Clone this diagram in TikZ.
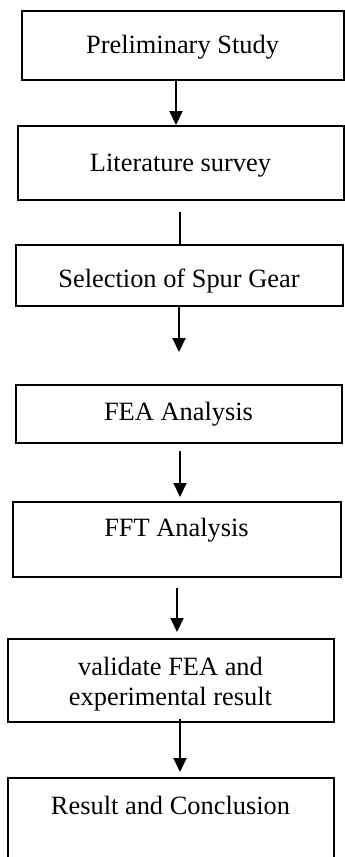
\documentclass[tikz,border=0pt]{standalone}
\usepackage{fontspec}
\setmainfont{Liberation Serif}
\usetikzlibrary{positioning,arrows.meta}

\begin{document}
\begin{tikzpicture}[
    x=0.5pt, y=-0.5pt,
    stepbox/.style={rectangle, draw=black, line width=1pt, inner sep=0pt,
                outer sep=0pt, align=center, text height=9pt,
                font=\fontsize{13.2}{15}\selectfont},
    arrow/.style={-{Triangle[length=7pt,width=6.5pt]}, line width=1pt},
    link/.style={line width=1pt}
]
    \useasboundingbox (0,0) rectangle (344,857);

    \node[stepbox, minimum width=161pt, minimum height=34.5pt, text height=16pt, text depth=7.8pt]
        (prelim) at (182.5,45.5) {Preliminary Study};
    \node[stepbox, minimum width=163pt, minimum height=37pt, text height=17pt, text depth=8.7pt,
          below=23pt of prelim, xshift=-1pt] (lit) {Literature survey};
    \node[stepbox, minimum width=163.5pt, minimum height=30.5pt, text height=18pt, text depth=6.5pt,
          below=22.5pt of lit, xshift=-0.75pt] (select) {Selection of Spur Gear};
    \node[stepbox, minimum width=163pt, minimum height=29pt, text depth=2.3pt,
          below=39.5pt of select, xshift=-0.25pt] (fea) {FEA Analysis};
    \node[stepbox, minimum width=164pt, minimum height=37.5pt, text depth=12.5pt,
          below=29.5pt of fea, xshift=-1pt] (fft) {FFT Analysis};
    \node[stepbox, minimum width=163pt, minimum height=41.5pt, text height=26pt, text depth=1.1pt,
          below=31pt of fft, xshift=-3pt] (valid) {validate FEA and\\experimental result};
    \node[stepbox, minimum width=163pt, minimum height=40.5pt, text depth=13.5pt,
          below=28pt of valid] (result) {Result and Conclusion};

    \draw[arrow, shorten >=0.5pt] (prelim.south -| 176,0) -- (lit.north -| 176,0);
    \draw[link, shorten <=6pt] (lit.south -| 180,0) -- (select.north -| 180,0);
    \draw[arrow, shorten >=16.5pt] (select.south -| 179,0) -- (fea.north -| 179,0);
    \draw[arrow, shorten <=4pt, shorten >=2.5pt] (fea.south -| 180,0) -- (fft.north -| 180,0);
    \draw[arrow, shorten <=5.5pt, shorten >=3.5pt] (fft.south -| 177,0) -- (valid.north -| 177,0);
    \draw[arrow, shorten <=-1.5pt, shorten >=3pt] (valid.south -| 180,0) -- (result.north -| 180,0);
\end{tikzpicture}
\end{document}
